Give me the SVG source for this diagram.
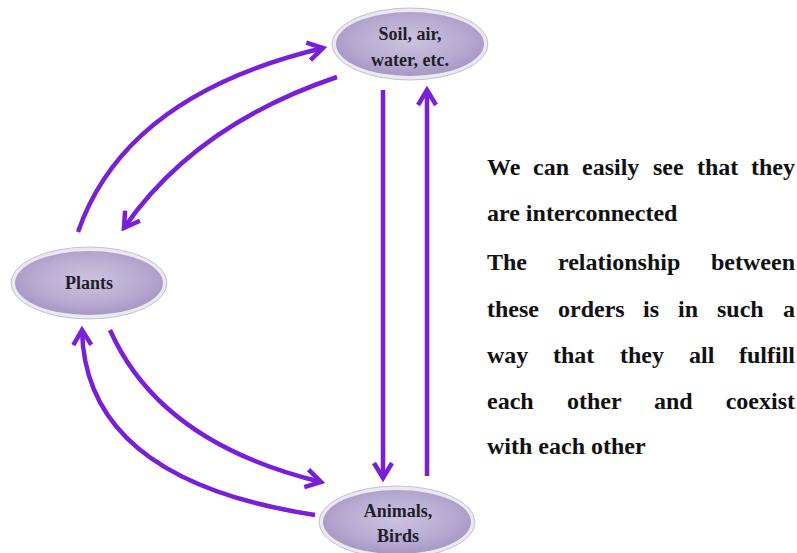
<svg xmlns="http://www.w3.org/2000/svg" width="797" height="553" viewBox="0 0 797 553">
<defs>
<radialGradient id="nodeFill" cx="50%" cy="45%" r="55%">
<stop offset="0%" stop-color="#cdc3e0"/>
<stop offset="70%" stop-color="#b6a9d0"/>
<stop offset="100%" stop-color="#a797c4"/>
</radialGradient>
<marker id="chev" viewBox="0 0 22 22" refX="18" refY="11" markerWidth="22" markerHeight="22" markerUnits="userSpaceOnUse" orient="auto">
<path d="M3,2 L18,11 L3,20" fill="none" stroke="#7a1fd8" stroke-width="4.5" stroke-linejoin="miter"/>
</marker>
</defs>
<style>
.node ellipse.outer{fill:#ebe8f0;stroke:#c6c0d3;stroke-width:1}
.node ellipse.inner{fill:url(#nodeFill)}
.node text{font-family:"Liberation Serif","Times New Roman",serif;font-weight:bold;font-size:18px;fill:#221c2c;text-anchor:middle}
.conn path{fill:none;stroke:#7a1fd8;stroke-width:4.5;marker-end:url(#chev)}
.body{font-family:"Liberation Serif","Times New Roman",serif;font-weight:bold;font-size:24px;fill:#111111}
.body .e{text-anchor:end}
</style>
<rect width="797" height="553" fill="#ffffff"/>
<g class="conn" id="connectors">
<path d="M78,232 Q125,95 323,48"/>
<path d="M337,77 Q195,125 124,228"/>
<path d="M110,330 Q160,443 321,482"/>
<path d="M315,515 Q85,480 82,330"/>
<path d="M383,90 L383,478"/>
<path d="M427,476 L427,90"/>
</g>
<g class="node" id="node-soil">
<ellipse class="outer" cx="410" cy="44" rx="78" ry="36"/>
<ellipse class="inner" cx="410" cy="44" rx="74" ry="32"/>
<text x="410" y="40">Soil, air,</text>
<text x="410" y="66">water, etc.</text>
</g>
<g class="node" id="node-plants">
<ellipse class="outer" cx="89" cy="283" rx="78" ry="36"/>
<ellipse class="inner" cx="89" cy="283" rx="74" ry="32"/>
<text x="89" y="289">Plants</text>
</g>
<g class="node" id="node-animals">
<ellipse class="outer" cx="397" cy="522" rx="78" ry="36"/>
<ellipse class="inner" cx="397" cy="522" rx="74" ry="32"/>
<text x="398" y="517">Animals,</text>
<text x="398" y="542">Birds</text>
</g>
<g id="description" class="body">
<text y="175"><tspan x="487">We</tspan><tspan x="533">can</tspan><tspan x="582">easily</tspan><tspan x="653">see</tspan><tspan x="697">that</tspan><tspan class="e" x="795">they</tspan></text>
<text x="487" y="221">are interconnected</text>
<text y="270"><tspan x="487">The</tspan><tspan x="558">relationship</tspan><tspan class="e" x="795">between</tspan></text>
<text y="317"><tspan x="487">these</tspan><tspan x="558">orders</tspan><tspan x="643">is</tspan><tspan x="678">in</tspan><tspan x="717">such</tspan><tspan class="e" x="795">a</tspan></text>
<text y="363"><tspan x="487">way</tspan><tspan x="553">that</tspan><tspan x="620">they</tspan><tspan x="689">all</tspan><tspan class="e" x="795">fulfill</tspan></text>
<text y="409"><tspan x="487">each</tspan><tspan x="567">other</tspan><tspan x="654">and</tspan><tspan class="e" x="795">coexist</tspan></text>
<text x="487" y="454">with each other</text>
</g>
</svg>
